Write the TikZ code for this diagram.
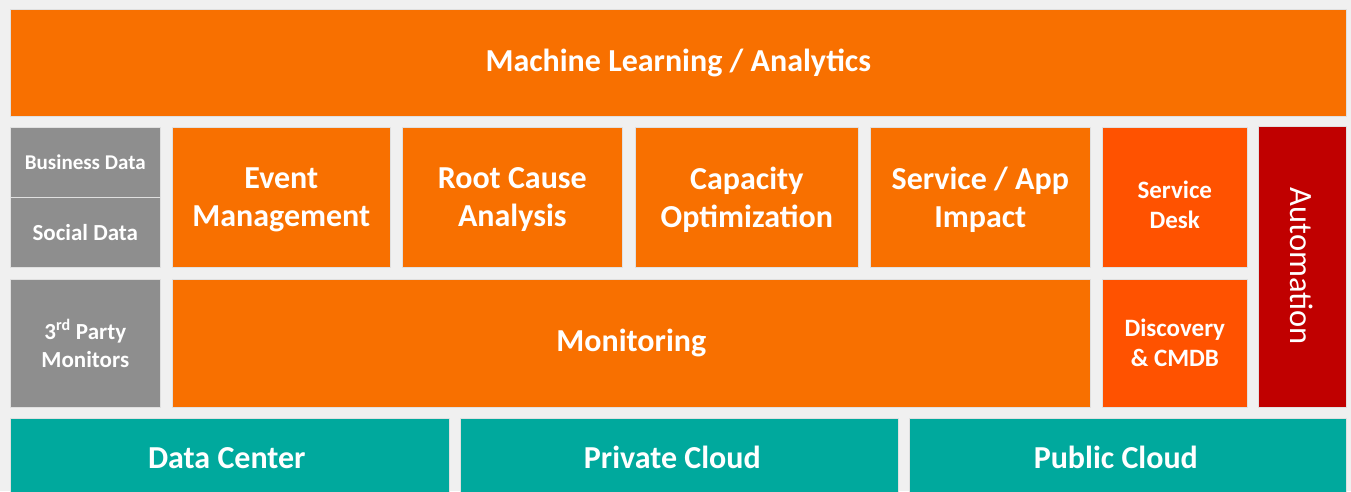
\documentclass[tikz,border=0pt]{standalone}
\usepackage{fontspec}
\setmainfont{Carlito}

\definecolor{bggray}{HTML}{F0F0F0}
\definecolor{mlorange}{HTML}{F87000}
\definecolor{deskorange}{HTML}{FF5200}
\definecolor{autored}{HTML}{C00000}
\definecolor{srcgray}{HTML}{8E8E8E}
\definecolor{infrateal}{HTML}{00A99D}

\tikzset{
	box/.style={anchor=north west, inner sep=0pt, align=center, text=white, draw=black!12, line width=0.6pt},
	bigtext/.style={font=\fontsize{32}{38}\selectfont\bfseries},
	midtext/.style={font=\fontsize{25}{30}\selectfont\bfseries},
	smalltext/.style={font=\fontsize{23}{28}\selectfont\bfseries},
}

\begin{document}
\begin{tikzpicture}[x=1pt, y=-1pt]
		\useasboundingbox[fill=bggray] (0,0) rectangle (1351,491);

		% analytics
		\node[box, bigtext, fill=mlorange, minimum width=1336, minimum height=107] (ml) at (10,9) {Machine Learning / Analytics};

		% data sources
		\node[box, fill=srcgray, minimum width=150, minimum height=70, font=\fontsize{21}{24}\selectfont\bfseries] (biz) at (10,127) {Business Data};
		\node[box, smalltext, fill=srcgray, minimum width=150, minimum height=70] (soc) at (10,197) {Social Data};
		\node[box, smalltext, fill=srcgray, minimum width=150, minimum height=128] (third) at (10,279) {3\textsuperscript{rd} Party\\Monitors};

		% functions
		\node[box, bigtext, fill=mlorange, minimum width=218, minimum height=140, text depth=0pt] (evt) at (172,127) {Event\\Management};
		\node[box, bigtext, fill=mlorange, minimum width=220, minimum height=140, text depth=0pt] (rca) at (402,127) {Root Cause\\Analysis};
		\node[box, bigtext, fill=mlorange, minimum width=223, minimum height=140, text depth=0pt] (cap) at (635,127) {Capacity\\Optimization};
		\node[box, bigtext, fill=mlorange, minimum width=220, minimum height=140, text depth=0pt] (svc) at (870,127) {Service / App\\Impact};
		\node[box, bigtext, fill=mlorange, minimum width=918, minimum height=128] (mon) at (172,279) {Monitoring};

		\node[box, midtext, fill=deskorange, minimum width=145, minimum height=140, text height=62pt, text depth=0pt] (desk) at (1102,127) {Service\\Desk};
		\node[box, midtext, fill=deskorange, minimum width=145, minimum height=128] (disc) at (1102,279) {Discovery\\\& CMDB};

		\node[box, anchor=center, rotate=-90, fill=autored, minimum width=281, minimum height=88, font=\fontsize{32.5}{38}\selectfont] (auto) at (1302,266.5) {Automation};

		% infrastructure
		\node[box, bigtext, fill=infrateal, minimum width=439, minimum height=79] (dc) at (10,418) {Data Center\hspace*{6pt}};
		\node[box, bigtext, fill=infrateal, minimum width=438, minimum height=79] (priv) at (460,418) {Private Cloud\hspace*{14pt}};
		\node[box, bigtext, fill=infrateal, minimum width=437, minimum height=79] (pub) at (909,418) {Public Cloud\hspace*{24pt}};
	\end{tikzpicture}
\end{document}
